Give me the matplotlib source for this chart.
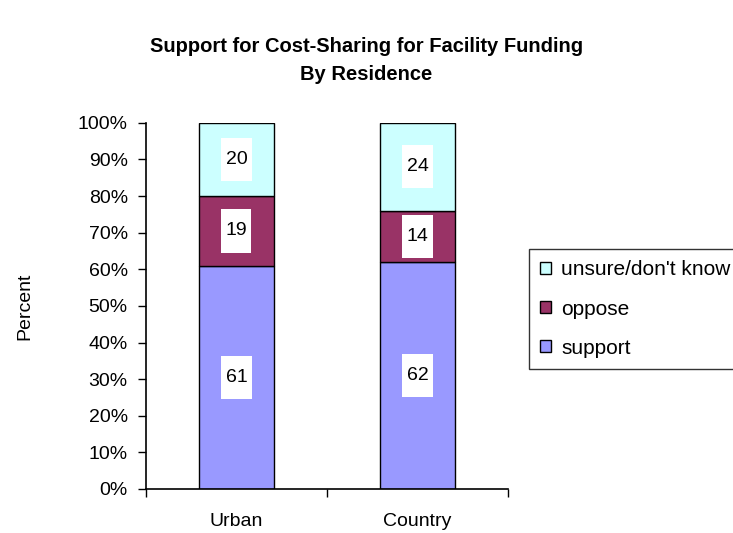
import numpy as np
import matplotlib.pyplot as plt
from matplotlib.path import Path
from matplotlib.ticker import FuncFormatter

plt.rcParams['font.family'] = ['Liberation Sans', 'DejaVu Sans']

# Data
groups = ['Urban', 'Country']
support = [61, 62]
oppose = [19, 14]
unsure = [20, 24]


def tall_box(x0, y0, width, height, mutation_size):
    # white label box, taller than wide like the original
    px = 0.22 * mutation_size
    py = 0.68 * mutation_size
    x0, y0 = x0 - px, y0 - py
    x1, y1 = x0 + width + 2 * px, y0 + height + 2 * py
    return Path([(x0, y0), (x1, y0), (x1, y1), (x0, y1), (x0, y0)], closed=True)


fig = plt.figure(figsize=(7.33, 5.33), dpi=100)
ax = fig.add_axes([0.199, 0.0826, 0.494, 0.687])

x = np.arange(len(groups))
w = 0.41
b1 = ax.bar(x, support, w, color='#9999FF', edgecolor='black', linewidth=1, label='support')
b2 = ax.bar(x, oppose, w, bottom=support, color='#993366', edgecolor='black', linewidth=1, label='oppose')
bottom2 = np.array(support) + np.array(oppose)
b3 = ax.bar(x, unsure, w, bottom=bottom2, color='#CCFFFF', edgecolor='black', linewidth=1,
            label="unsure/don't know")

# value labels in white boxes
for vals, bots in [(support, [0, 0]), (oppose, support), (unsure, bottom2)]:
    for xi, v, bt in zip(x, vals, bots):
        ax.text(xi, bt + v / 2, str(v), ha='center', va='center', fontsize=14,
                bbox=dict(boxstyle=tall_box, facecolor='white', edgecolor='none'))

ax.set_xlim(-0.5, 1.5)
ax.set_ylim(0, 100)
ax.set_yticks(np.arange(0, 101, 10))
ax.yaxis.set_major_formatter(FuncFormatter(lambda v, p: f'{int(v)}%'))
ax.set_xticks([-0.5, 0.5, 1.5])
ax.set_xticklabels([])
ax.set_xticks(x, minor=True)
ax.set_xticklabels(groups, minor=True)
ax.tick_params(axis='x', which='minor', length=0, pad=17, labelsize=14)
ax.tick_params(axis='x', which='major', direction='out', length=6, width=1)
ax.tick_params(axis='y', direction='out', length=6, width=1, labelsize=14, pad=7)
for s in ['top', 'right']:
    ax.spines[s].set_visible(False)
for s in ['left', 'bottom']:
    ax.spines[s].set_linewidth(1.2)

ax.set_ylabel('Percent', fontsize=14, labelpad=32)

fig.suptitle('Support for Cost-Sharing for Facility Funding\nBy Residence',
             x=0.5, y=0.93, fontsize=14.5, fontweight='bold', linespacing=1.6)

handles = [b3, b2, b1]
leg = fig.legend(handles, [h.get_label() for h in handles], loc='upper left',
                 bbox_to_anchor=(0.7217, 0.533), frameon=True, fancybox=False,
                 edgecolor='black', fontsize=15, handlelength=0.5, handleheight=0.5,
                 handletextpad=0.5, labelspacing=0.97, borderpad=0.55, borderaxespad=0)
leg.get_frame().set_linewidth(1)

fig.savefig('out.png', dpi=100)
